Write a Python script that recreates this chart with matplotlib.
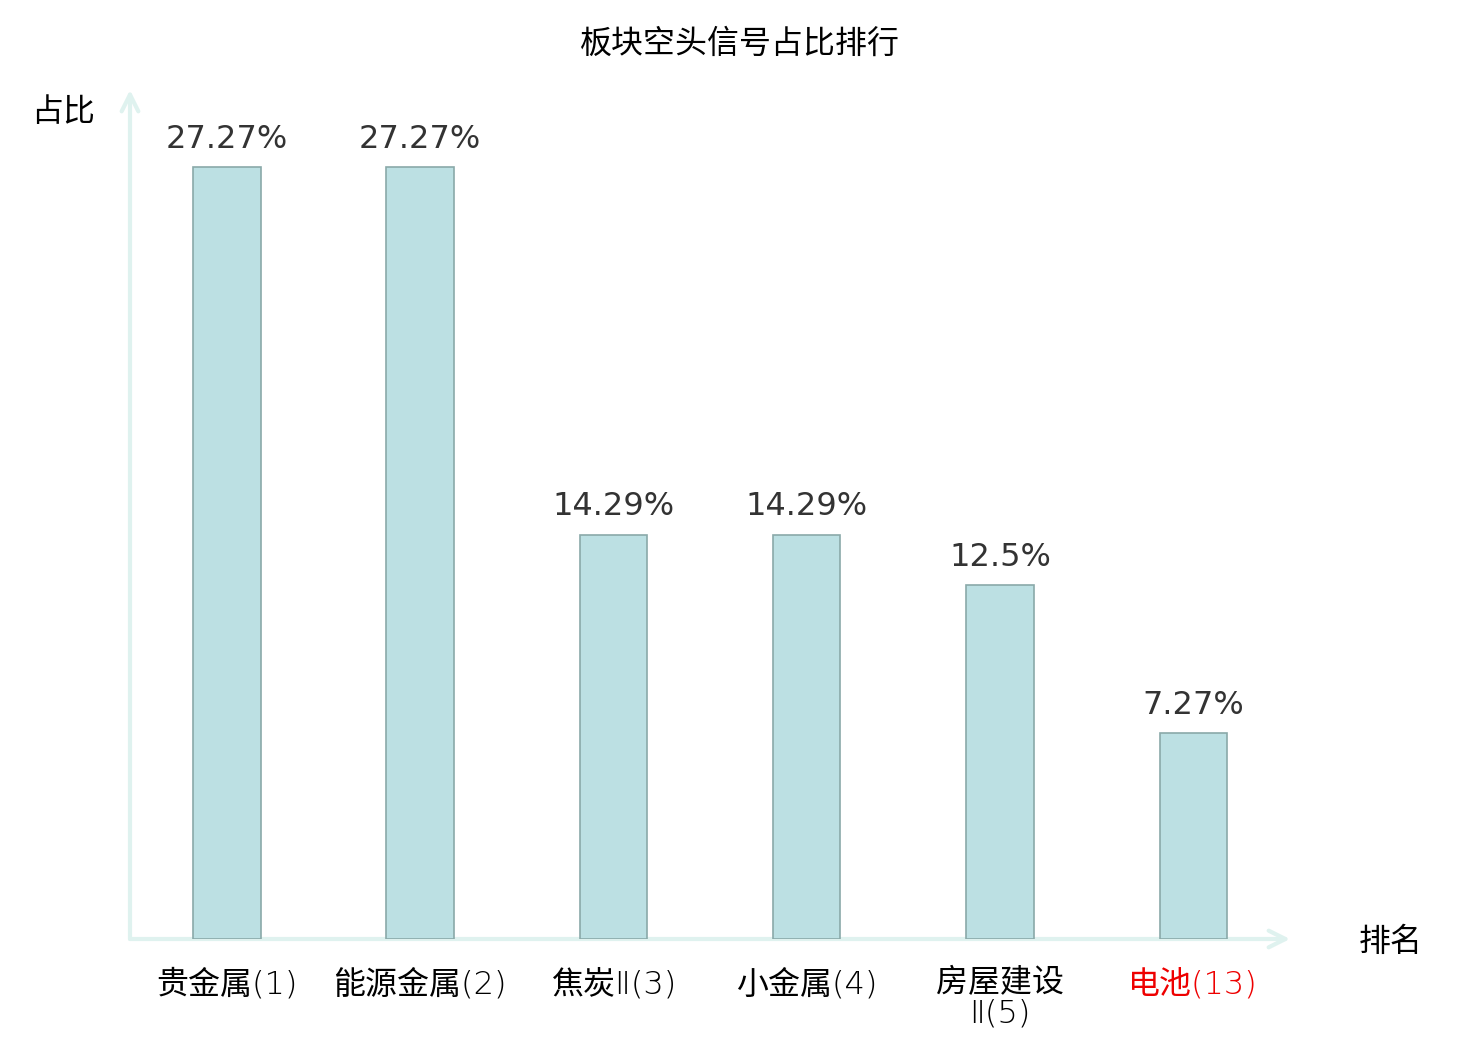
import matplotlib
matplotlib.use('Agg')
import matplotlib.pyplot as plt

plt.rcParams['font.family'] = ['Noto Sans CJK SC', 'DejaVu Sans']

# data
categories = ['贵金属(1)', '能源金属(2)', '焦炭Ⅱ(3)', '小金属(4)', '房屋建设\nⅡ(5)', '电池(13)']
values = [27.27, 27.27, 14.29, 14.29, 12.5, 7.27]
value_labels = ['27.27%', '27.27%', '14.29%', '14.29%', '12.5%', '7.27%']
highlight = [False, False, False, False, False, True]

fig = plt.figure(figsize=(14.8, 10.4), dpi=100)
ax = fig.add_axes([130 / 1480, 101 / 1040, 1160 / 1480, 849 / 1040])

x = list(range(len(categories)))
bars = ax.bar(x, values, width=0.35, color='#bce0e3', edgecolor='#8aa9a9', linewidth=1.2, zorder=2)

for b, lab in zip(bars, value_labels):
    ax.text(b.get_x() + b.get_width() / 2, b.get_height() + 0.45, lab,
            ha='center', va='bottom', fontsize=23, color='#333333',
            family=['DejaVu Sans'])

ax.set_xlim(-0.5, 5.5)
ax.set_ylim(0, 30)
for s in ax.spines.values():
    s.set_visible(False)
ax.set_yticks([])
ax.set_xticks(x)
ax.set_xticklabels(categories, fontsize=23, linespacing=1.02,
                   family=['DejaVu Sans', 'Noto Sans CJK SC'], weight='light')
ax.tick_params(axis='x', length=0, pad=21)
for t, h in zip(ax.get_xticklabels(), highlight):
    t.set_verticalalignment('top')
    if h:
        t.set_color('#ee0000')

# axis arrows
axis_color = '#dff2ef'
ax.annotate('', xy=(1.0, 0), xytext=(0, 0), xycoords='axes fraction',
            arrowprops=dict(arrowstyle='->', color=axis_color, lw=3,
                            mutation_scale=30, shrinkA=0, shrinkB=0), zorder=1)
ax.annotate('', xy=(0, 1.0), xytext=(0, 0), xycoords='axes fraction',
            arrowprops=dict(arrowstyle='->', color=axis_color, lw=3,
                            mutation_scale=30, shrinkA=0, shrinkB=0), zorder=1)

fig.text(63 / 1480, 1 - 112 / 1040, '占比', ha='center', va='center', fontsize=23)
fig.text(1391 / 1480, 1 - 942 / 1040, '排名', ha='center', va='center', fontsize=23)
fig.text(0.5, 1 - 44 / 1040, '板块空头信号占比排行', ha='center', va='center', fontsize=23)

fig.savefig('out.png', dpi=100)
